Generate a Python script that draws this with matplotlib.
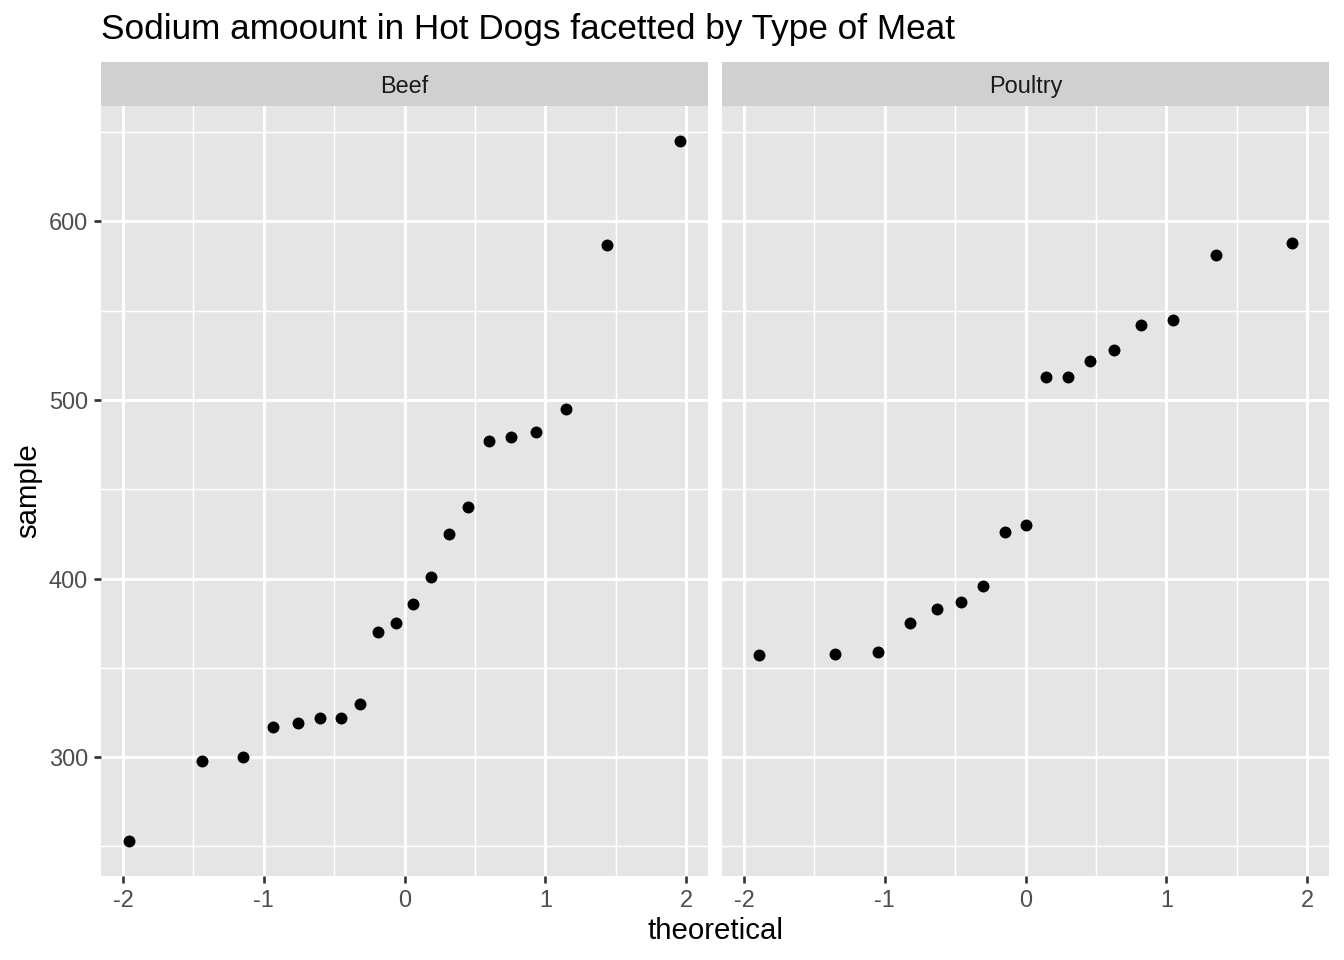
import matplotlib
matplotlib.use("Agg")
import matplotlib.pyplot as plt

# values
beef_theoretical = [-1.960, -1.440, -1.150, -0.935, -0.755, -0.598, -0.454, -0.319, -0.189, -0.063,
                    0.063, 0.189, 0.319, 0.454, 0.598, 0.755, 0.935, 1.150, 1.440, 1.960]
beef_sample = [253, 298, 300, 317, 319, 322, 322, 330, 370, 375,
               386, 401, 425, 440, 477, 479, 482, 495, 587, 645]

poultry_theoretical = [-1.890, -1.352, -1.049, -0.821, -0.629, -0.457, -0.299, -0.148, 0.0,
                       0.148, 0.299, 0.457, 0.629, 0.821, 1.049, 1.352, 1.890]
poultry_sample = [357, 358, 359, 375, 383, 387, 396, 426, 430,
                  513, 513, 522, 528, 542, 545, 581, 588]

facets = ["Beef", "Poultry"]
x_ticks = [-2, -1, 0, 1, 2]
x_minor = [-1.5, -0.5, 0.5, 1.5]
y_ticks = [300, 400, 500, 600]
y_minor = [250, 350, 450, 550, 650]

plt.rcParams['font.family'] = ['Liberation Sans', 'DejaVu Sans']

W, H = 1344, 960
fig = plt.figure(figsize=(7, 5), dpi=192)

panels = [(101, 708), (722, 1329)]
top, bottom = 106, 876
strip_top = 62
data = [(beef_theoretical, beef_sample), (poultry_theoretical, poultry_sample)]

xlim = (-2.156, 2.156)
ylim = (233.4, 664.6)

for i, ((l, r), name, (xs, ys)) in enumerate(zip(panels, facets, data)):
    ax = fig.add_axes([l / W, 1 - bottom / H, (r - l) / W, (bottom - top) / H])
    ax.set_facecolor('#E5E5E5')
    for s in ax.spines.values():
        s.set_visible(False)
    ax.set_xlim(*xlim)
    ax.set_ylim(*ylim)
    for v in x_minor:
        ax.axvline(v, color='white', lw=0.55, zorder=1)
    for v in y_minor:
        ax.axhline(v, color='white', lw=0.55, zorder=1)
    for v in x_ticks:
        ax.axvline(v, color='white', lw=1.1, zorder=1)
    for v in y_ticks:
        ax.axhline(v, color='white', lw=1.1, zorder=1)
    ax.scatter(xs, ys, s=20, color='black', zorder=3, linewidths=0)
    ax.set_xticks(x_ticks)
    ax.set_xticklabels([str(t) for t in x_ticks])
    ax.set_yticks(y_ticks)
    ax.tick_params(axis='both', colors='#333333', labelcolor='#4D4D4D', labelsize=8.8,
                   length=2.75, width=1.0, pad=2.2)
    if i == 0:
        ax.set_yticklabels([str(t) for t in y_ticks])
    else:
        ax.tick_params(axis='y', left=False, labelleft=False)

    sax = fig.add_axes([l / W, 1 - top / H, (r - l) / W, (top - strip_top) / H])
    sax.set_facecolor('#D0D0D0')
    sax.set_xticks([])
    sax.set_yticks([])
    for s in sax.spines.values():
        s.set_visible(False)
    sax.text(0.5, 0.44, name, ha='center', va='center', fontsize=8.8, color='#1A1A1A',
             transform=sax.transAxes)

fig.text(101 / W, 1 - 29 / H, "Sodium amoount in Hot Dogs facetted by Type of Meat",
         fontsize=13.2, color='black', ha='left', va='center')
fig.text((101 + 1329) / 2 / W, 1 - 931 / H, "theoretical", fontsize=11, ha='center', va='center')
fig.text(28 / W, 1 - (top + bottom) / 2 / H, "sample", fontsize=11, rotation=90,
         ha='center', va='center')

fig.savefig("out.png", dpi=192)
